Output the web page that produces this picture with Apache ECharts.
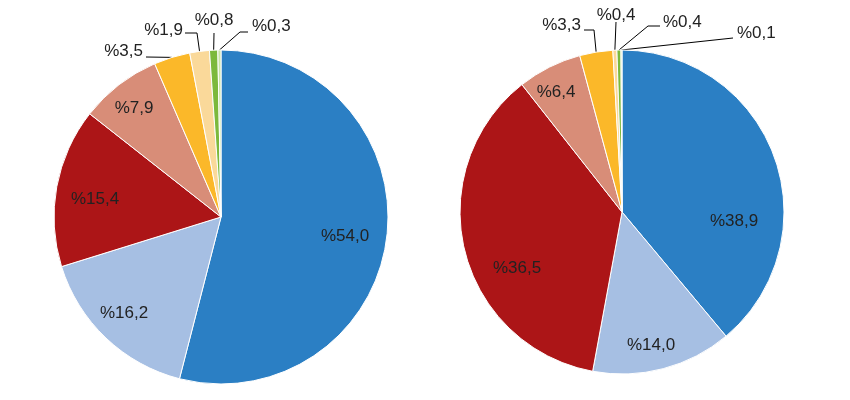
<!DOCTYPE html>
<html><head><meta charset="utf-8">
<script src="https://cdn.jsdelivr.net/npm/echarts@6/dist/echarts.min.js"></script>
<style>html,body{margin:0;padding:0;background:#fff}#c{width:850px;height:400px}</style>
</head><body><div id="c"></div>
<script>
// ---- data ----
const categories = ['Kategori 1','Kategori 2','Kategori 3','Kategori 4','Kategori 5','Kategori 6','Kategori 7','Kategori 8'];
const leftValues  = [54.0, 16.2, 15.4, 7.9, 3.5, 1.9, 0.8, 0.3];
const rightValues = [38.9, 14.0, 36.5, 6.4, 3.3, 0.4, 0.4, 0.1];
const colors = ['#2B7FC4','#A6BFE3','#AC1517','#D88D78','#FBB829','#FAD99A','#7CB93C','#C9E4A7'];
const insideCount = 4; // first four slices carry their label inside

// ---- layout (label anchors relative to pie centre, px) ----
const pies = [
  { values: leftValues, center: [221, 217], r: 167,
    labels: [
      { at: [124, 19.5] }, { at: [-97, 96] }, { at: [-126, -18] }, { at: [-87, -109] },
      { at: [-78, -166], align: 'right', line: [[-75, -160]] },
      { at: [-38, -187], align: 'right', line: [[-24, -184], [-36, -184]] },
      { at: [-7, -197], align: 'center', line: [[-7, -184]] },
      { at: [31, -191], align: 'left', line: [[19, -185], [27, -185]] }
    ] },
  { values: rightValues, center: [622, 212], r: 162,
    labels: [
      { at: [112, 9] }, { at: [29, 133] }, { at: [-105, 56] }, { at: [-66, -120] },
      { at: [-41, -187], align: 'right', line: [[-28, -182], [-38, -182]] },
      { at: [-6, -197], align: 'center', line: [[-6, -190]] },
      { at: [41, -190], align: 'left', line: [[26, -186], [38, -186]] },
      { at: [115, -179], align: 'left', line: [[111, -174]] }
    ] }
];

function fmt(v) { return '%' + v.toFixed(1).replace('.', ','); }

function edgePoint(p, idx) {
  const vals = p.values;
  const total = vals.reduce((a, b) => a + b, 0);
  let cum = 0;
  for (let i = 0; i < idx; i++) cum += vals[i];
  const th = (cum + vals[idx] / 2) / total * Math.PI * 2;
  return [p.center[0] + p.r * Math.sin(th), p.center[1] - p.r * Math.cos(th)];
}

function buildSeries(p, si) {
  return {
    type: 'pie',
    center: p.center,
    radius: p.r,
    startAngle: 90,
    clockwise: true,
    avoidLabelOverlap: false,
    silent: true,
    itemStyle: { borderColor: '#fff', borderWidth: 1 },
    label: {
      show: true,
      formatter: (d) => fmt(d.value),
      fontFamily: '"Liberation Sans", Arial, sans-serif',
      fontSize: 17,
      color: '#222'
    },
    labelLine: { show: true, length: 10, length2: 10, lineStyle: { color: '#000', width: 1 } },
    labelLayout: function (params) {
      const idx = params.dataIndex;
      const cfg = p.labels[idx];
      const out = {
        x: p.center[0] + cfg.at[0],
        y: p.center[1] + cfg.at[1],
        align: cfg.align || 'center',
        verticalAlign: 'middle'
      };
      if (cfg.line) {
        const pts = [edgePoint(p, idx)];
        cfg.line.forEach(q => pts.push([p.center[0] + q[0], p.center[1] + q[1]]));
        out.labelLinePoints = pts;
      }
      return out;
    },
    data: p.values.map((v, i) => ({
      name: categories[i],
      value: v,
      itemStyle: { color: colors[i] },
      label: { position: i < insideCount ? 'inside' : 'outside' },
      labelLine: { show: i >= insideCount }
    }))
  };
}

const chart = echarts.init(document.getElementById('c'), null, { renderer: 'canvas' });
chart.setOption({
  animation: false,
  backgroundColor: '#fff',
  series: pies.map(buildSeries)
});
</script>
</body></html>
